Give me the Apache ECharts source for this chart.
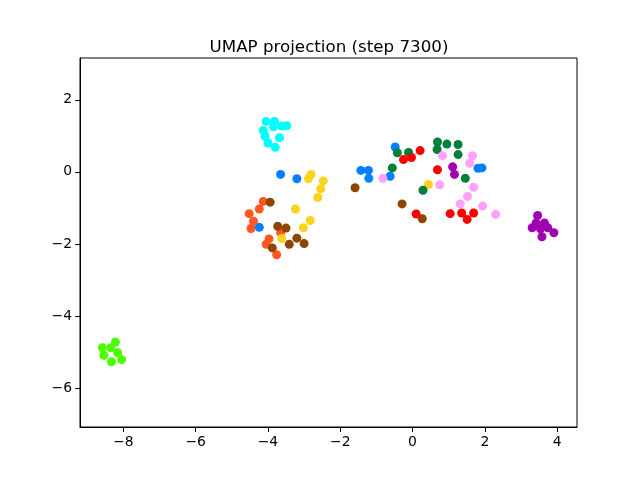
<!DOCTYPE html>
<html><head><meta charset="utf-8">
<script src="https://cdn.jsdelivr.net/npm/echarts@6/dist/echarts.min.js"></script>
<style>html,body{margin:0;padding:0;background:#fff}#c{width:640px;height:480px}</style>
</head><body><div id="c"></div>
<script>
const xTicks = [-8, -6, -4, -2, 0, 2, 4];
const yTicks = [-6, -4, -2, 0, 2];
const cyan = [[-4.05,1.40],[-3.82,1.40],[-3.62,1.27],[-3.48,1.28],[-4.13,1.15],[-4.08,0.99],[-3.68,0.95],[-4.0,0.80],[-3.80,0.68],[-3.85,1.25]];
const blue = [[-3.65,-0.07],[-3.20,-0.19],[-4.24,-1.54],[-0.48,0.69],[-1.43,0.04],[-1.22,0.04],[-1.21,-0.18],[-0.62,-0.12],[1.81,0.10],[1.92,0.11]];
const yellow = [[-2.81,-0.07],[-2.88,-0.19],[-2.47,-0.25],[-2.54,-0.47],[-2.62,-0.71],[-3.24,-1.03],[-2.83,-1.35],[-3.02,-1.55],[-3.62,-1.85],[0.44,-0.35]];
const orange = [[-4.13,-0.82],[-4.24,-1.03],[-4.52,-1.16],[-4.40,-1.37],[-4.47,-1.57],[-3.97,-1.86],[-4.05,-2.01],[-3.76,-2.30],[-3.65,-1.69]];
const brown = [[-3.94,-0.84],[-3.73,-1.51],[-3.50,-1.56],[-3.20,-1.84],[-3.41,-2.01],[-3.0,-1.99],[-3.88,-2.11],[-1.59,-0.44],[-0.29,-0.89],[0.27,-1.30]];
const green = [[-0.42,0.53],[-0.11,0.54],[-0.56,0.11],[0.69,0.83],[0.95,0.77],[1.26,0.76],[0.68,0.62],[1.26,0.48],[1.46,-0.18],[0.29,-0.51]];
const red = [[0.21,0.59],[-0.25,0.34],[-0.03,0.40],[0.69,0.06],[0.10,-1.17],[1.04,-1.16],[1.36,-1.14],[1.69,-1.14],[1.51,-1.32]];
const pink = [[0.83,0.45],[1.66,0.45],[1.58,0.24],[-0.82,-0.18],[0.75,-0.36],[1.69,-0.43],[1.52,-0.68],[1.32,-0.89],[1.94,-0.95],[2.30,-1.18]];
const purple = [[1.11,0.14],[1.16,-0.07],[3.46,-1.21],[3.31,-1.55],[3.42,-1.42],[3.65,-1.42],[3.74,-1.55],[3.58,-1.80],[3.91,-1.69],[3.54,-1.58]];
const lime = [[-8.58,-4.88],[-8.22,-4.72],[-8.35,-4.88],[-8.54,-5.09],[-8.16,-5.02],[-8.33,-5.27],[-8.05,-5.21]];

const groups = [
  [cyan, '#00FFFF'], [lime, '#4CFF00'], [orange, '#FF5722'], [brown, '#8C4600'],
  [yellow, '#FFD21E'], [blue, '#0080FF'], [green, '#00803C'], [red, '#FF0000'],
  [pink, '#FFA0FF'], [purple, '#A000B0']
];
const fmt = v => (v < 0 ? '\u2212' + Math.abs(v) : String(v));
const chart = echarts.init(document.getElementById('c'), null, {renderer: 'canvas'});
const axisCommon = {
  type: 'value', splitLine: {show: false},
  axisLine: {show: true, onZero: false, lineStyle: {color: '#000', width: 1}},
  axisTick: {show: true, length: 5, inside: false, lineStyle: {color: '#000'}},
  axisLabel: {color: '#000', fontFamily: 'DejaVu Sans', fontSize: 13.9, formatter: fmt}
};
chart.setOption({
  animation: false,
  title: {text: 'UMAP projection (step 7300)', left: 324, textAlign: 'center', top: 34,
    textStyle: {fontFamily: 'DejaVu Sans', fontWeight: 'normal', fontSize: 16.7, color: '#000'}},
  grid: {left: 80, right: 63, top: 58, bottom: 53, show: true, borderColor: '#000', borderWidth: 1, containLabel: false},
  xAxis: Object.assign({}, axisCommon, {min: -9.2, max: 4.55,
    axisTick: Object.assign({}, axisCommon.axisTick, {customValues: xTicks}),
    axisLabel: Object.assign({}, axisCommon.axisLabel, {customValues: xTicks, margin: 8})}),
  yAxis: Object.assign({}, axisCommon, {min: -7.08, max: 3.16,
    axisTick: Object.assign({}, axisCommon.axisTick, {customValues: yTicks}),
    axisLabel: Object.assign({}, axisCommon.axisLabel, {customValues: yTicks, margin: 8})}),
  series: groups.map(g => ({
    type: 'scatter', data: g[0], symbolSize: 9,
    itemStyle: {color: g[1], opacity: 1}
  }))
});
</script></body></html>
